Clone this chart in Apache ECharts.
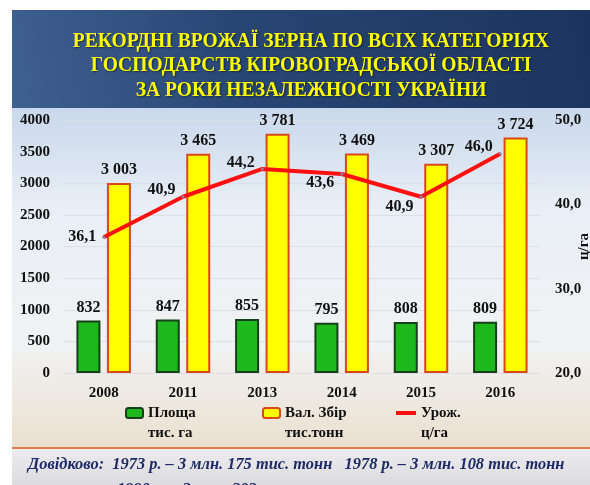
<!DOCTYPE html>
<html>
<head>
<meta charset="utf-8">
<title>Рекордні врожаї зерна</title>
<script src="https://cdn.jsdelivr.net/npm/echarts@6/dist/echarts.min.js"></script>
<style>
    body{ margin:0; background:#fff; }
    #chart{ width:590px; height:485px; }
</style>
</head>
<body>
<div id="chart"></div>
<script>
    // дані
    var years = ['2008', '2011', '2013', '2014', '2015', '2016'];
    var area = [832, 847, 855, 795, 808, 809];             // площа, тис. га
    var harvest = [3003, 3465, 3781, 3469, 3307, 3724];    // вал. збір, тис. тонн
    var yields = [36.1, 40.9, 44.2, 43.6, 40.9, 46.0];     // урожайність, ц/га
    var seriesNames = ['Площа', 'Вал. Збір', 'Урож.'];
    var seriesUnits = ['тис. га', 'тис.тонн', 'ц/га'];
    var leftScale = [0, 4000, 500];   // min, max, interval
    var rightScale = [20, 50, 10];
    var titleLines = [
        'РЕКОРДНІ ВРОЖАЇ ЗЕРНА ПО ВСІХ КАТЕГОРІЯХ',
        'ГОСПОДАРСТВ КІРОВОГРАДСЬКОЇ ОБЛАСТІ',
        'ЗА РОКИ НЕЗАЛЕЖНОСТІ УКРАЇНИ'
    ];
    var noteLines = [
        'Довідково:  1973 р. – 3 млн. 175 тис. тонн   1978 р. – 3 млн. 108 тис. тонн',
        '1990 р. – 3 млн. 303 тис. тонн'
    ];

    var serif = '"Liberation Serif", "DejaVu Serif", serif';
    var G = echarts.graphic;

    function spaced(v) { return String(v).replace(/\B(?=(\d{3})+(?!\d))/g, ' '); }
    function comma(v) { return Number(v).toFixed(1).replace('.', ','); }

    // зсув підписів урожайності (вгору / вниз від точки)
    var yieldLabelDy = [0, -7, -6, 9, 10, -7];

    var legendBase = {
        orient: 'horizontal',
        padding: 0,
        top: 383,
        itemWidth: 17,
        itemHeight: 10,
        // порожній рядок зверху, щоб назва стояла на рівні значка
        formatter: function (name) {
            return ' \n' + name + '\n' + seriesUnits[seriesNames.indexOf(name)];
        },
        textStyle: {
            fontFamily: serif, fontWeight: 'bold', fontSize: 15, color: '#111', lineHeight: 20
        }
    };

    var option = {
        animation: false,
        textStyle: { fontFamily: serif },
        grid: { left: 64, right: 50, top: 120, bottom: 112, outerBoundsMode: 'none', containLabel: false },
        legend: [
            Object.assign({}, legendBase, { left: 125, data: [seriesNames[0]] }),
            Object.assign({}, legendBase, { left: 262, data: [seriesNames[1]] }),
            Object.assign({}, legendBase, {
                left: 396, itemWidth: 20, itemHeight: 4,
                data: [{ name: seriesNames[2], icon: 'rect', itemStyle: { color: '#ff1010' } }]
            })
        ],
        xAxis: {
            type: 'category',
            data: years,
            axisLine: { show: false },
            axisTick: { show: false },
            axisLabel: { margin: 13, fontFamily: serif, fontWeight: 'bold', fontSize: 15, color: '#111' }
        },
        yAxis: [
            {
                type: 'value',
                min: leftScale[0], max: leftScale[1], interval: leftScale[2],
                axisLabel: {
                    margin: 14, fontFamily: serif, fontWeight: 'bold', fontSize: 15, color: '#111',
                    formatter: function (v) { return String(v); }
                },
                splitLine: { lineStyle: { color: '#dcdfe4', width: 1 } }
            },
            {
                type: 'value',
                min: rightScale[0], max: rightScale[1], interval: rightScale[2],
                name: 'ц/га',
                nameLocation: 'middle',
                nameRotate: 90,
                nameGap: 37,
                nameMoveOverlap: false,
                nameTextStyle: { fontFamily: serif, fontWeight: 'bold', fontSize: 15, color: '#111' },
                axisLabel: { margin: 15, fontFamily: serif, fontWeight: 'bold', fontSize: 15, color: '#111', formatter: comma },
                splitLine: { show: false }
            }
        ],
        series: [
            {
                name: seriesNames[0],
                type: 'bar',
                data: area,
                barWidth: 24,
                barGap: '27%',
                itemStyle: { color: '#1cb81c', borderColor: '#17401a', borderWidth: 2 },
                label: { show: true, position: 'top', distance: 5, fontFamily: serif, fontWeight: 'bold', fontSize: 16, color: '#111' }
            },
            {
                name: seriesNames[1],
                type: 'bar',
                data: harvest,
                barWidth: 24,
                itemStyle: { color: '#ffff00', borderColor: '#d9471a', borderWidth: 2 },
                label: {
                    show: true, position: 'top', distance: 5, fontFamily: serif, fontWeight: 'bold', fontSize: 16, color: '#111',
                    formatter: function (p) { return spaced(p.value); }
                }
            },
            {
                name: seriesNames[2],
                type: 'line',
                yAxisIndex: 1,
                z: 5,
                data: yields.map(function (v, i) {
                    return { value: v, label: { offset: [0, yieldLabelDy[i]] } };
                }),
                symbol: 'circle',
                symbolSize: 3,
                itemStyle: { color: '#8088b0' },
                lineStyle: { color: '#ff1010', width: 4 },
                label: {
                    show: true, position: 'left', distance: 6, fontFamily: serif, fontWeight: 'bold', fontSize: 16, color: '#111',
                    formatter: function (p) { return comma(p.value); }
                }
            }
        ],
        graphic: [
            {
                type: 'rect', z: -20, silent: true,
                shape: { x: 12, y: 108, width: 578, height: 340 },
                style: {
                    fill: new G.LinearGradient(0, 0, 0, 1, [
                        { offset: 0, color: '#c9d8eb' },
                        { offset: 0.3, color: '#e9eff6' },
                        { offset: 0.7, color: '#f1f2f3' },
                        { offset: 1, color: '#ebe0cf' }
                    ])
                }
            },
            {
                type: 'rect', z: -19, silent: true,
                shape: { x: 12, y: 10, width: 578, height: 98 },
                style: {
                    fill: new G.LinearGradient(1, 0, 0, 1, [
                        { offset: 0, color: '#1c335e' },
                        { offset: 0.6, color: '#284674' },
                        { offset: 1, color: '#3f6190' }
                    ])
                }
            },
            {
                type: 'rect', z: -19, silent: true,
                shape: { x: 12, y: 447, width: 578, height: 2 },
                style: { fill: '#de7a4e' }
            },
            {
                type: 'rect', z: -19, silent: true,
                shape: { x: 12, y: 449, width: 578, height: 36 },
                style: {
                    fill: new G.LinearGradient(0, 0, 0, 1, [
                        { offset: 0, color: '#ececee' },
                        { offset: 1, color: '#dcdce0' }
                    ])
                }
            }
        ].concat(titleLines.map(function (t, i) {
            return {
                type: 'text', x: 311, y: 41 + i * 24.5, scaleX: 0.888, silent: true,
                style: {
                    text: t, fill: '#ffff00', align: 'center', verticalAlign: 'middle',
                    font: 'bold 22px ' + serif,
                    textShadowColor: 'rgba(0,0,0,0.5)', textShadowBlur: 2, textShadowOffsetX: 1, textShadowOffsetY: 1
                }
            };
        })).concat(noteLines.map(function (t, i) {
            return {
                type: 'text', x: i === 0 ? 28 : 117, y: 465 + i * 25, scaleX: 0.965, silent: true,
                style: {
                    text: t, fill: '#1e2a66', align: 'left', verticalAlign: 'middle',
                    font: 'italic bold 17px ' + serif
                }
            };
        }))
    };

    var myChart = echarts.init(document.getElementById('chart'));
    myChart.setOption(option);
</script>
</body>
</html>
